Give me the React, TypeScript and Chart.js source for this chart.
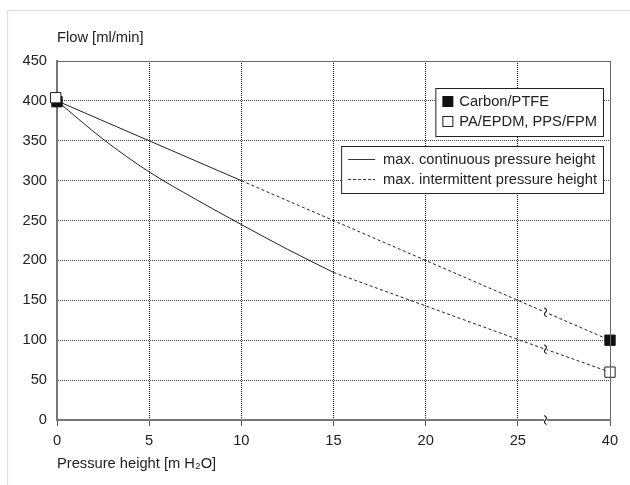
import React, { useEffect, useRef } from "react";
import { Chart, registerables } from "chart.js";

Chart.register(...registerables);

// x positions on an evenly spaced (broken) axis; last position is labelled "40"
const xTickValues = [0, 5, 10, 15, 20, 25, 30];
const xTickLabels = ["0", "5", "10", "15", "20", "25", "40"];
const yMin = 0;
const yMax = 450;
const yStep = 50;

const carbonContinuous = [
  { x: 0, y: 400 },
  { x: 5, y: 350 },
  { x: 10, y: 300 },
];
const carbonIntermittent = [
  { x: 10, y: 300 },
  { x: 15, y: 250 },
  { x: 20, y: 200 },
  { x: 25, y: 150 },
  { x: 30, y: 100 },
];
const paContinuous = [
  { x: 0, y: 400 },
  { x: 2.5, y: 352 },
  { x: 5, y: 311 },
  { x: 7.5, y: 277 },
  { x: 10, y: 245 },
  { x: 12.5, y: 214 },
  { x: 15, y: 185 },
];
const paIntermittent = [
  { x: 15, y: 185 },
  { x: 20, y: 143 },
  { x: 25, y: 101 },
  { x: 30, y: 60 },
];
const carbonMarkers = [
  { x: 0, y: 399 },
  { x: 30, y: 100 },
];
const paMarkers = [
  { x: -0.07, y: 404 },
  { x: 30, y: 60 },
];
const breakX = 26.5;

const materialLegend = ["Carbon/PTFE", "PA/EPDM, PPS/FPM"];
const lineLegend = ["max. continuous pressure height", "max. intermittent pressure height"];
const yTitle = "Flow [ml/min]";
const xTitle = "Pressure height [m H₂O]";

const FONT = "'Liberation Sans', Arial, Helvetica, sans-serif";
const FS = 14.7;
const INK = "#222";

function interp(series: { x: number; y: number }[], x: number) {
  for (let i = 0; i < series.length - 1; i++) {
    const a = series[i];
    const b = series[i + 1];
    if (x >= a.x && x <= b.x) return a.y + ((b.y - a.y) * (x - a.x)) / (b.x - a.x);
  }
  return series[series.length - 1].y;
}

const decor = {
  id: "decor",
  beforeDraw(chart: any) {
    const { ctx, width, height } = chart;
    ctx.save();
    ctx.fillStyle = "#fff";
    ctx.fillRect(0, 0, width, height);
    ctx.strokeStyle = "#e2e2e2";
    ctx.lineWidth = 1.5;
    ctx.beginPath();
    ctx.moveTo(7.5, height);
    ctx.lineTo(7.5, 10.5);
    ctx.lineTo(width, 10.5);
    ctx.stroke();
    ctx.restore();
  },
  afterDraw(chart: any) {
    const { ctx, chartArea: ca } = chart;
    const xs = chart.scales.x;
    const ys = chart.scales.y;
    ctx.save();
    // top & right frame of plot area
    ctx.strokeStyle = "#666";
    ctx.lineWidth = 1;
    ctx.beginPath();
    ctx.moveTo(ca.left, ca.top + 0.5);
    ctx.lineTo(ca.right + 0.5, ca.top + 0.5);
    ctx.lineTo(ca.right + 0.5, ca.bottom);
    ctx.stroke();

    // break marks (small vertical squiggles)
    const bx = xs.getPixelForValue(breakX);
    [interp(carbonIntermittent, breakX), interp(paIntermittent, breakX), 0].forEach((v) => {
      const by = ys.getPixelForValue(v);
      ctx.fillStyle = "#fff";
      ctx.fillRect(bx - 1.5, by - 3, 3, 6);
      ctx.strokeStyle = "#222";
      ctx.lineWidth = 1.2;
      ctx.beginPath();
      ctx.moveTo(bx - 1.2, by - 4.5);
      ctx.quadraticCurveTo(bx + 2.6, by - 2.4, bx, by);
      ctx.quadraticCurveTo(bx - 2.6, by + 2.4, bx + 1.2, by + 4.5);
      ctx.stroke();
    });

    // axis titles
    ctx.font = FS + "px " + FONT;
    ctx.fillStyle = INK;
    ctx.textAlign = "left";
    ctx.textBaseline = "middle";
    ctx.fillText(yTitle, ca.left, ca.top - 23);
    ctx.fillText(xTitle, ca.left, ca.bottom + 44);

    // legend 1: material markers
    const w1 = Math.max(...materialLegend.map((t) => ctx.measureText(t).width)) + 24 + 6;
    const r = ca.right - 7;
    const t1 = ca.top + 27;
    ctx.fillStyle = "#fff";
    ctx.fillRect(r - w1, t1, w1, 48);
    ctx.strokeStyle = "#222";
    ctx.lineWidth = 1;
    ctx.strokeRect(r - w1 + 0.5, t1 + 0.5, w1, 48);
    materialLegend.forEach((t, i) => {
      const cy = t1 + 13 + i * 20;
      const lx = r - w1 + 7;
      if (i === 0) {
        ctx.fillStyle = "#111";
        ctx.fillRect(lx, cy - 5, 11, 11);
      } else {
        ctx.fillStyle = "#fff";
        ctx.fillRect(lx, cy - 5, 11, 11);
        ctx.strokeStyle = "#222";
        ctx.strokeRect(lx + 0.5, cy - 4.5, 10, 10);
      }
      ctx.fillStyle = INK;
      ctx.fillText(t, lx + 17, cy + 1);
    });

    // legend 2: line styles
    const w2 = Math.max(...lineLegend.map((t) => ctx.measureText(t).width)) + 42 + 6;
    const t2 = ca.top + 85;
    ctx.fillStyle = "#fff";
    ctx.fillRect(r - w2, t2, w2, 47);
    ctx.strokeStyle = "#222";
    ctx.strokeRect(r - w2 + 0.5, t2 + 0.5, w2, 47);
    lineLegend.forEach((t, i) => {
      const cy = t2 + 13 + i * 20;
      const lx = r - w2 + 7;
      ctx.strokeStyle = "#333";
      ctx.lineWidth = 1;
      ctx.setLineDash(i === 0 ? [] : [3, 2]);
      ctx.beginPath();
      ctx.moveTo(lx, cy + 0.5);
      ctx.lineTo(lx + 27, cy + 0.5);
      ctx.stroke();
      ctx.setLineDash([]);
      ctx.fillStyle = INK;
      ctx.fillText(t, lx + 35, cy + 1);
    });
    ctx.restore();
  },
};

export default function App() {
  const ref = useRef<HTMLCanvasElement | null>(null);
  useEffect(() => {
    if (!ref.current) return;
    const lineBase = {
      borderColor: "#222",
      borderWidth: 1,
      pointRadius: 0,
      fill: false,
      showLine: true,
      clip: false as any,
    };
    const chart = new Chart(ref.current, {
      type: "scatter",
      data: {
        datasets: [
          {
            label: "PA markers",
            data: paMarkers,
            pointStyle: "rect",
            pointRadius: 7.3,
            pointBackgroundColor: "#fff",
            pointBorderColor: "#222",
            pointBorderWidth: 1,
            showLine: false,
            clip: false as any,
          },
          {
            label: "Carbon markers",
            data: carbonMarkers,
            pointStyle: "rect",
            pointRadius: 7.3,
            pointBackgroundColor: "#111",
            pointBorderColor: "#111",
            pointBorderWidth: 1,
            showLine: false,
            clip: false as any,
          },
          { ...lineBase, label: "Carbon cont.", data: carbonContinuous },
          { ...lineBase, label: "Carbon int.", data: carbonIntermittent, borderDash: [3, 2.5] },
          { ...lineBase, label: "PA cont.", data: paContinuous, cubicInterpolationMode: "monotone" as const },
          { ...lineBase, label: "PA int.", data: paIntermittent, borderDash: [3, 2.5] },
        ] as any,
      },
      options: {
        animation: false,
        responsive: false,
        maintainAspectRatio: false,
        layout: { padding: { top: 61, right: 20, bottom: 0, left: 0 } },
        plugins: { legend: { display: false }, tooltip: { enabled: false } },
        scales: {
          x: {
            type: "linear",
            min: 0,
            max: 30,
            afterFit: (s: any) => {
              s.height = 65;
            },
            afterBuildTicks: (s: any) => {
              s.ticks = xTickValues.map((v) => ({ value: v }));
            },
            ticks: {
              autoSkip: false,
              maxRotation: 0,
              padding: 6,
              color: INK,
              font: { family: FONT, size: FS },
              callback: (v: any) => {
                const i = xTickValues.indexOf(Number(v));
                return i >= 0 ? xTickLabels[i] : "";
              },
            },
            grid: {
              color: "#111",
              lineWidth: 1,
              tickLength: 6,
              tickColor: "#555",
              drawTicks: true,
            },
            border: { display: true, color: "#777", width: 2, dash: [1, 1] },
          },
          y: {
            type: "linear",
            min: yMin,
            max: yMax,
            afterFit: (s: any) => {
              s.width = 57;
            },
            ticks: {
              stepSize: yStep,
              padding: 10,
              color: INK,
              font: { family: FONT, size: FS },
            },
            grid: { color: "#444", lineWidth: 1, drawTicks: false },
            border: { display: true, color: "#777", width: 2, dash: [1, 1] },
          },
        },
      } as any,
      plugins: [decor],
    });
    return () => chart.destroy();
  }, []);
  return (
    <div style={{ position: "fixed", left: 0, top: 0, width: 630, height: 485 }}>
      <canvas ref={ref} width={630} height={485} style={{ width: 630, height: 485, display: "block" }} />
    </div>
  );
}
